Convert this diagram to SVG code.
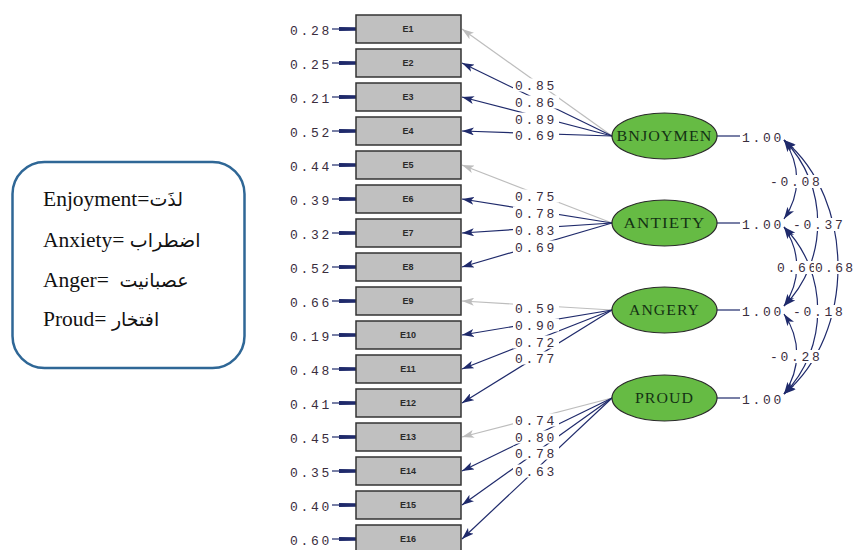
<svg xmlns="http://www.w3.org/2000/svg" width="857" height="550" viewBox="0 0 857 550">
<style>
.box{fill:#c0c0c0;stroke:#333;stroke-width:1.5}
.bl{font-family:"Liberation Sans",Arial,sans-serif;font-size:9px;font-weight:bold;fill:#2a2a2a;text-anchor:middle}
.num{font-family:"Liberation Mono","DejaVu Sans Mono",monospace;font-size:13px;letter-spacing:2.7px;fill:#3a2d3d}
.ell{fill:#66bb44;stroke:#2a2a2a;stroke-width:1.2}
.et{font-family:"Liberation Serif","DejaVu Serif",serif;font-size:15px;fill:#143214;text-anchor:middle;letter-spacing:1px}
.ln{stroke:#1f2a6b;stroke-width:1.2;fill:none}
.lg{stroke:#bdbdbd;stroke-width:1.2;fill:none}
.bg{fill:#fff}
.leg{font-family:"Liberation Serif","DejaVu Sans",serif;font-size:21.5px;fill:#111;white-space:pre}
.ar{font-size:19px}
</style>
<defs>
<marker id="an" markerUnits="userSpaceOnUse" viewBox="0 0 12 8" markerWidth="12" markerHeight="8" refX="12" refY="4" orient="auto-start-reverse"><path d="M0,0 L12,4 L0,8 L3,4 Z" fill="#1f2a6b"/></marker>
<marker id="ag" markerUnits="userSpaceOnUse" viewBox="0 0 12 8" markerWidth="12" markerHeight="8" refX="12" refY="4" orient="auto"><path d="M0,0 L12,4 L0,8 L3,4 Z" fill="#bdbdbd"/></marker>
<marker id="ae" markerUnits="userSpaceOnUse" viewBox="0 0 17 6" markerWidth="17" markerHeight="6" refX="17" refY="3" orient="auto"><path d="M0,1 L17,1.3 L17,4.7 L0,5 Z" fill="#1f2a6b"/></marker>
</defs>

<g id="legend">
<rect x="12.5" y="162" width="232" height="206" rx="32" fill="#fff" stroke="#2f6796" stroke-width="2.5"/>
<text class="leg" x="43" y="206">Enjoyment=<tspan class="ar">لذَت</tspan></text>
<text class="leg" x="43" y="247">Anxiety= <tspan class="ar">اضطراب</tspan></text>
<text class="leg" x="43" y="287" xml:space="preserve">Anger=  <tspan class="ar">عصبانیت</tspan></text>
<text class="leg" x="43" y="326">Proud= <tspan class="ar">افتخار</tspan></text>
</g>

<g id="connectors">
<g class="ln" marker-end="url(#ae)">
<line x1="332" y1="29" x2="356" y2="29"/><line x1="332" y1="63" x2="356" y2="63"/><line x1="332" y1="97" x2="356" y2="97"/><line x1="332" y1="131" x2="356" y2="131"/>
<line x1="332" y1="165" x2="356" y2="165"/><line x1="332" y1="199" x2="356" y2="199"/><line x1="332" y1="233" x2="356" y2="233"/><line x1="332" y1="267" x2="356" y2="267"/>
<line x1="332" y1="301" x2="356" y2="301"/><line x1="332" y1="335" x2="356" y2="335"/><line x1="332" y1="369" x2="356" y2="369"/><line x1="332" y1="403" x2="356" y2="403"/>
<line x1="332" y1="437" x2="356" y2="437"/><line x1="332" y1="471" x2="356" y2="471"/><line x1="332" y1="505" x2="356" y2="505"/><line x1="332" y1="539" x2="356" y2="539"/>
</g>
<g class="lg" marker-end="url(#ag)">
<line x1="612" y1="136" x2="462" y2="29"/>
<line x1="612" y1="223" x2="462" y2="165"/>
<line x1="612" y1="310" x2="462" y2="301"/>
<line x1="612" y1="398" x2="462" y2="437"/>
</g>
<g class="ln" marker-end="url(#an)">
<line x1="612" y1="136" x2="462" y2="63"/><line x1="612" y1="136" x2="462" y2="97"/><line x1="612" y1="136" x2="462" y2="131"/>
<line x1="612" y1="223" x2="462" y2="199"/><line x1="612" y1="223" x2="462" y2="233"/><line x1="612" y1="223" x2="462" y2="267"/>
<line x1="612" y1="310" x2="462" y2="335"/><line x1="612" y1="310" x2="462" y2="369"/><line x1="612" y1="310" x2="462" y2="403"/>
<line x1="612" y1="398" x2="462" y2="471"/><line x1="612" y1="398" x2="462" y2="505"/><line x1="612" y1="398" x2="462" y2="539"/>
</g>
<g class="ln">
<line x1="717" y1="136" x2="740" y2="136"/><line x1="717" y1="223" x2="740" y2="223"/><line x1="717" y1="310" x2="740" y2="310"/><line x1="717" y1="398" x2="740" y2="398"/>
</g>
<g class="ln" marker-start="url(#an)" marker-end="url(#an)">
<path d="M784,140 C801,165 801,194 784,219"/>
<path d="M784,227 C801,252 801,281 784,306"/>
<path d="M784,314 C801,339 801,369 784,394"/>
<path d="M784,140 C829,185 829,261 784,306"/>
<path d="M784,227 C829,272 829,349 784,394"/>
<path d="M784,140 C856,200 856,334 784,394"/>
</g>
</g>

<g id="loading-labels">
<rect class="bg" x="513" y="78.5" width="46" height="13"/><text class="num" x="515" y="89.5">0.85</text>
<rect class="bg" x="513" y="95.5" width="46" height="13"/><text class="num" x="515" y="106.5">0.86</text>
<rect class="bg" x="513" y="112.5" width="46" height="13"/><text class="num" x="515" y="123.5">0.89</text>
<rect class="bg" x="513" y="128.5" width="46" height="13"/><text class="num" x="515" y="139.5">0.69</text>
<rect class="bg" x="513" y="189.5" width="46" height="13"/><text class="num" x="515" y="200.5">0.75</text>
<rect class="bg" x="513" y="206.5" width="46" height="13"/><text class="num" x="515" y="217.5">0.78</text>
<rect class="bg" x="513" y="223.5" width="46" height="13"/><text class="num" x="515" y="234.5">0.83</text>
<rect class="bg" x="513" y="240.5" width="46" height="13"/><text class="num" x="515" y="251.5">0.69</text>
<rect class="bg" x="513" y="301.5" width="46" height="13"/><text class="num" x="515" y="312.5">0.59</text>
<rect class="bg" x="513" y="318.5" width="46" height="13"/><text class="num" x="515" y="329.5">0.90</text>
<rect class="bg" x="513" y="335.5" width="46" height="13"/><text class="num" x="515" y="346.5">0.72</text>
<rect class="bg" x="513" y="351.5" width="46" height="13"/><text class="num" x="515" y="362.5">0.77</text>
<rect class="bg" x="513" y="413.5" width="46" height="13"/><text class="num" x="515" y="424.5">0.74</text>
<rect class="bg" x="513" y="430.5" width="46" height="13"/><text class="num" x="515" y="441.5">0.80</text>
<rect class="bg" x="513" y="446.5" width="46" height="13"/><text class="num" x="515" y="457.5">0.78</text>
<rect class="bg" x="513" y="464.5" width="46" height="13"/><text class="num" x="515" y="475.5">0.63</text>
</g>

<g id="error-labels">
<text class="num" x="290" y="34.5">0.28</text><text class="num" x="290" y="68.5">0.25</text><text class="num" x="290" y="102.5">0.21</text><text class="num" x="290" y="136.5">0.52</text>
<text class="num" x="290" y="170.5">0.44</text><text class="num" x="290" y="204.5">0.39</text><text class="num" x="290" y="238.5">0.32</text><text class="num" x="290" y="272.5">0.52</text>
<text class="num" x="290" y="306.5">0.66</text><text class="num" x="290" y="340.5">0.19</text><text class="num" x="290" y="374.5">0.48</text><text class="num" x="290" y="408.5">0.41</text>
<text class="num" x="290" y="442.5">0.45</text><text class="num" x="290" y="476.5">0.35</text><text class="num" x="290" y="510.5">0.40</text><text class="num" x="290" y="544.5">0.60</text>
</g>

<g id="cov-labels">
<text class="num" x="742" y="142">1.00</text>
<text class="num" x="742" y="229">1.00</text>
<text class="num" x="742" y="316">1.00</text>
<text class="num" x="742" y="404">1.00</text>
<rect class="bg" x="769" y="175" width="54" height="13"/><text class="num" x="770" y="186">-0.08</text>
<rect class="bg" x="792" y="218" width="53" height="13"/><text class="num" x="793" y="229">-0.37</text>
<rect class="bg" x="776" y="261" width="44" height="13"/><text class="num" x="777" y="272">0.66</text>
<rect class="bg" x="814" y="261" width="43" height="13"/><text class="num" x="815" y="272" style="letter-spacing:2.3px">0.68</text>
<rect class="bg" x="792" y="305" width="53" height="13"/><text class="num" x="793" y="316">-0.18</text>
<rect class="bg" x="769" y="350" width="54" height="13"/><text class="num" x="770" y="361">-0.28</text>
</g>

<g id="E1"><rect class="box" x="356" y="15" width="105" height="28"/><text class="bl" x="408" y="32">E1</text></g>
<g id="E2"><rect class="box" x="356" y="49" width="105" height="28"/><text class="bl" x="408" y="66">E2</text></g>
<g id="E3"><rect class="box" x="356" y="83" width="105" height="28"/><text class="bl" x="408" y="100">E3</text></g>
<g id="E4"><rect class="box" x="356" y="117" width="105" height="28"/><text class="bl" x="408" y="134">E4</text></g>
<g id="E5"><rect class="box" x="356" y="151" width="105" height="28"/><text class="bl" x="408" y="168">E5</text></g>
<g id="E6"><rect class="box" x="356" y="185" width="105" height="28"/><text class="bl" x="408" y="202">E6</text></g>
<g id="E7"><rect class="box" x="356" y="219" width="105" height="28"/><text class="bl" x="408" y="236">E7</text></g>
<g id="E8"><rect class="box" x="356" y="253" width="105" height="28"/><text class="bl" x="408" y="270">E8</text></g>
<g id="E9"><rect class="box" x="356" y="287" width="105" height="28"/><text class="bl" x="408" y="304">E9</text></g>
<g id="E10"><rect class="box" x="356" y="321" width="105" height="28"/><text class="bl" x="408" y="338">E10</text></g>
<g id="E11"><rect class="box" x="356" y="355" width="105" height="28"/><text class="bl" x="408" y="372">E11</text></g>
<g id="E12"><rect class="box" x="356" y="389" width="105" height="28"/><text class="bl" x="408" y="406">E12</text></g>
<g id="E13"><rect class="box" x="356" y="423" width="105" height="28"/><text class="bl" x="408" y="440">E13</text></g>
<g id="E14"><rect class="box" x="356" y="457" width="105" height="28"/><text class="bl" x="408" y="474">E14</text></g>
<g id="E15"><rect class="box" x="356" y="491" width="105" height="28"/><text class="bl" x="408" y="508">E15</text></g>
<g id="E16"><rect class="box" x="356" y="525" width="105" height="28"/><text class="bl" x="408" y="542">E16</text></g>

<g id="BNJOYMEN"><ellipse class="ell" cx="664.5" cy="136" rx="52.5" ry="23"/><text class="et" x="664.5" y="141" textLength="96" lengthAdjust="spacingAndGlyphs">BNJOYMEN</text></g>
<g id="ANTIETY"><ellipse class="ell" cx="664.5" cy="223" rx="52.5" ry="23"/><text class="et" x="664.5" y="228" textLength="82" lengthAdjust="spacingAndGlyphs">ANTIETY</text></g>
<g id="ANGERY"><ellipse class="ell" cx="664.5" cy="310" rx="52.5" ry="23"/><text class="et" x="664.5" y="315" textLength="71" lengthAdjust="spacingAndGlyphs">ANGERY</text></g>
<g id="PROUD"><ellipse class="ell" cx="664.5" cy="398" rx="52.5" ry="23"/><text class="et" x="664.5" y="403" textLength="59" lengthAdjust="spacingAndGlyphs">PROUD</text></g>
</svg>
